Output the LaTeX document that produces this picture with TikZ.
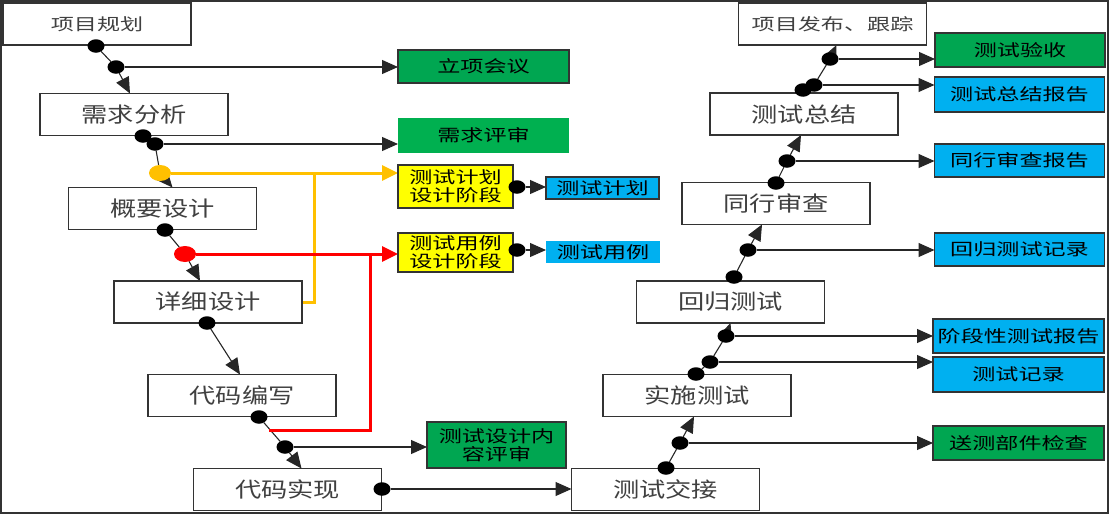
\documentclass[tikz,border=0pt]{standalone}
\usepackage{fontspec}
\newfontfamily\cjkbig[FakeStretch=1.25]{Noto Sans CJK SC}
\newfontfamily\cjksmall[FakeStretch=1.4]{Noto Sans CJK SC}
\usepackage{xcolor}
\usetikzlibrary{arrows.meta}
\usetikzlibrary{calc}
\usetikzlibrary{shapes.geometric}
\pgfdeclarelayer{lines}
\pgfsetlayers{lines,main}
\definecolor{boxgreen}{RGB}{0,166,81}
\definecolor{lightgreen}{RGB}{0,176,80}
\definecolor{boxblue}{RGB}{0,176,240}
\definecolor{boxyellow}{RGB}{255,255,0}
\definecolor{lineorange}{RGB}{255,192,0}
\definecolor{linered}{RGB}{255,0,0}
\definecolor{textgray}{RGB}{64,64,64}

\begin{document}
\begin{tikzpicture}[x=1pt,y=-1pt,every node/.style={inner sep=1pt,outer sep=0},
    stage/.style={draw=black!80,line width=1.3pt,fill=white,minimum width=188pt,minimum height=42pt,text=textgray,font=\cjkbig\fontsize{21}{24}\selectfont},
    stagesmall/.style={stage,font=\cjksmall\fontsize{16.5}{19}\selectfont},
    side/.style={draw=black!80,line width=1.2pt,minimum width=170pt,minimum height=34pt,align=center,font=\cjksmall\fontsize{16.5}{19}\selectfont},
    dot/.style={ellipse,fill=black,minimum width=17pt,minimum height=13.5pt,inner sep=0},
    bigdot/.style={dot,minimum width=22pt,minimum height=16pt},
    flow/.style={line width=1.1pt,black!85},
    arr/.style={flow,-{Triangle[length=16pt,width=14pt]}}]
    \useasboundingbox (0,0) rectangle (1109,514);
    \draw[line width=1.5pt,black!80] (1,1) rectangle (1108,513);

    \node[stagesmall](xmgh) at (97,24) {项目规划};
    \node[stage](xqfx) at (134,114.5) {需求分析};
    \node[stage](gysj) at (162.5,208.5) {概要设计};
    \node[stage](xxsj) at (208,302) {详细设计};
    \node[stage](dmbx) at (242,395.5) {代码编写};
    \node[stage](dmsx) at (287.5,489.5) {代码实现};
    \node[stage](csjj) at (665.5,489.5) {测试交接};
    \node[stage](sscs) at (697,395.5) {实施测试};
    \node[stage](hgcs) at (730.5,302) {回归测试};
    \node[stage](txsc) at (776,203.5) {同行审查};
    \node[stage](cszj) at (804,114) {测试总结};
    \node[stagesmall](xmfb) at (832.5,24) {项目发布、跟踪};

    \node[side,fill=boxgreen,minimum width=171pt,minimum height=33pt](lxhy) at (483.5,66.5) {立项会议};
    \node[side,draw=none,fill=lightgreen,minimum width=171pt,minimum height=35pt](xqps) at (483.5,135.5) {需求评审};
    \node[side,fill=boxyellow,minimum width=115pt,minimum height=43pt](jhjd) at (455.5,186.5) {测试计划\\[-1pt]设计阶段};
    \node[side,fill=boxyellow,minimum width=115pt,minimum height=39pt](yljd) at (455.5,252.5) {测试用例\\[-1pt]设计阶段};
    \node[side,fill=boxblue,minimum width=113pt,minimum height=22pt](csjh) at (602.5,188) {测试计划};
    \node[side,draw=none,fill=boxblue,minimum width=114pt,minimum height=22pt](csyl) at (603,252) {测试用例};
    \node[side,fill=boxgreen,minimum width=139pt,minimum height=46pt](sjps) at (496.5,445) {测试设计内\\[-1pt]容评审};
    \node[side,fill=boxgreen](csys) at (1020,50) {测试验收};
    \node[side,fill=boxblue,minimum height=35pt](zjbg) at (1019.5,94.5) {测试总结报告};
    \node[side,fill=boxblue,minimum height=33pt](scbg) at (1019.5,160.5) {同行审查报告};
    \node[side,fill=boxblue,minimum height=33pt](hgjl) at (1019.5,249.5) {回归测试记录};
    \node[side,fill=boxblue,minimum width=171pt](jdbg) at (1018.5,336) {阶段性测试报告};
    \node[side,fill=boxblue,minimum width=171pt,minimum height=35pt](csjl) at (1018.5,374.5) {测试记录};
    \node[side,fill=boxgreen,minimum width=171pt](sjjc) at (1018.5,443) {送测部件检查};

    \node[dot](d1) at (96,46) {};
    \node[dot](d2) at (116,67) {};
    \node[dot](d3) at (143,136) {};
    \node[dot](d4) at (155,144) {};
    \node[bigdot,fill=lineorange](od) at (160,173) {};
    \node[dot](d5) at (165,230) {};
    \node[bigdot,fill=linered](rd) at (185,254) {};
    \node[dot](d6) at (207,323) {};
    \node[dot](d7) at (259,417) {};
    \node[dot](d8) at (285,447) {};
    \node[dot](d9) at (382,489) {};
    \node[dot](d10) at (517,187) {};
    \node[dot](d11) at (517,250) {};
    \node[dot](e1) at (666,468) {};
    \node[dot](e2) at (680,443) {};
    \node[dot](e3) at (696,374) {};
    \node[dot](e4) at (710,362) {};
    \node[dot](e5) at (726,336) {};
    \node[dot](e6) at (734,277) {};
    \node[dot](e7) at (748,250) {};
    \node[dot](e8) at (776,183) {};
    \node[dot](e9) at (787,161) {};
    \node[dot](e10) at (803,90) {};
    \node[dot](e11) at (814,85) {};
    \node[dot](e12) at (830,59) {};
    \coordinate (oj) at (314,173);
    \coordinate (rs) at (269,430);
    \coordinate (rj) at (370,254);

    \begin{pgfonlayer}{lines}
    \draw[flow] (d1) -- (d2); \draw[arr] (d2) -- ([xshift=-4pt]xqfx.north); \draw[arr] (d2) -- (d2 -| lxhy.west);
    \draw[flow] (d3) -- (d4) -- (od); \draw[arr] (od) -- ([xshift=10pt]gysj.north); \draw[arr] (d4) -- (d4 -| xqps.west);
    \draw[flow] (d5) -- (rd); \draw[arr] (rd) -- ([xshift=-8pt]xxsj.north);
    \draw[arr] (d6) -- ([xshift=-2pt]dmbx.north);
    \draw[flow] (d7) -- (d8); \draw[arr] (d8) -- ([xshift=14pt]dmsx.north); \draw[arr] (d8) -- (d8 -| sjps.west);
    \draw[arr] (d9) -- (d9 -| csjj.west);
    \draw[arr] (d10) -- (d10 -| csjh.west);
    \draw[arr] (d11) -- (d11 -| csyl.west);

    \draw[line width=3pt,lineorange] (xxsj.east) -| (oj);
    \draw[line width=3pt,lineorange,-{Triangle[length=16pt,width=15pt]}] (od) -- (od -| jhjd.west);
    \draw[line width=3pt,linered] (rs) -| (rj);
    \draw[line width=3pt,linered,-{Triangle[length=16pt,width=15pt]}] (rd) -- (rd -| yljd.west);

    \draw[flow] (e1) -- (e2); \draw[arr] (e2) -- ([xshift=-3pt]sscs.south); \draw[arr] (e2) -- (e2 -| sjjc.west);
    \draw[flow] (e3) -- (e4) -- (e5); \draw[arr] (e5) -- (hgcs.south); \draw[arr] (e4) -- (e4 -| csjl.west); \draw[arr] (e5) -- (e5 -| jdbg.west);
    \draw[flow] (e6) -- (e7); \draw[arr] (e7) -- ([xshift=-14pt]txsc.south); \draw[arr] (e7) -- (e7 -| hgjl.west);
    \draw[flow] (e8) -- (e9); \draw[arr] (e9) -- ([xshift=-3pt]cszj.south); \draw[arr] (e9) -- (e9 -| scbg.west);
    \draw[flow] (e10) -- (e11) -- (e12); \draw[arr] (e12) -- ([xshift=4pt]xmfb.south); \draw[arr] (e11) -- (e11 -| zjbg.west); \draw[arr] (e12) -- (e12 -| csys.west);
    \end{pgfonlayer}
\end{tikzpicture}
\end{document}
